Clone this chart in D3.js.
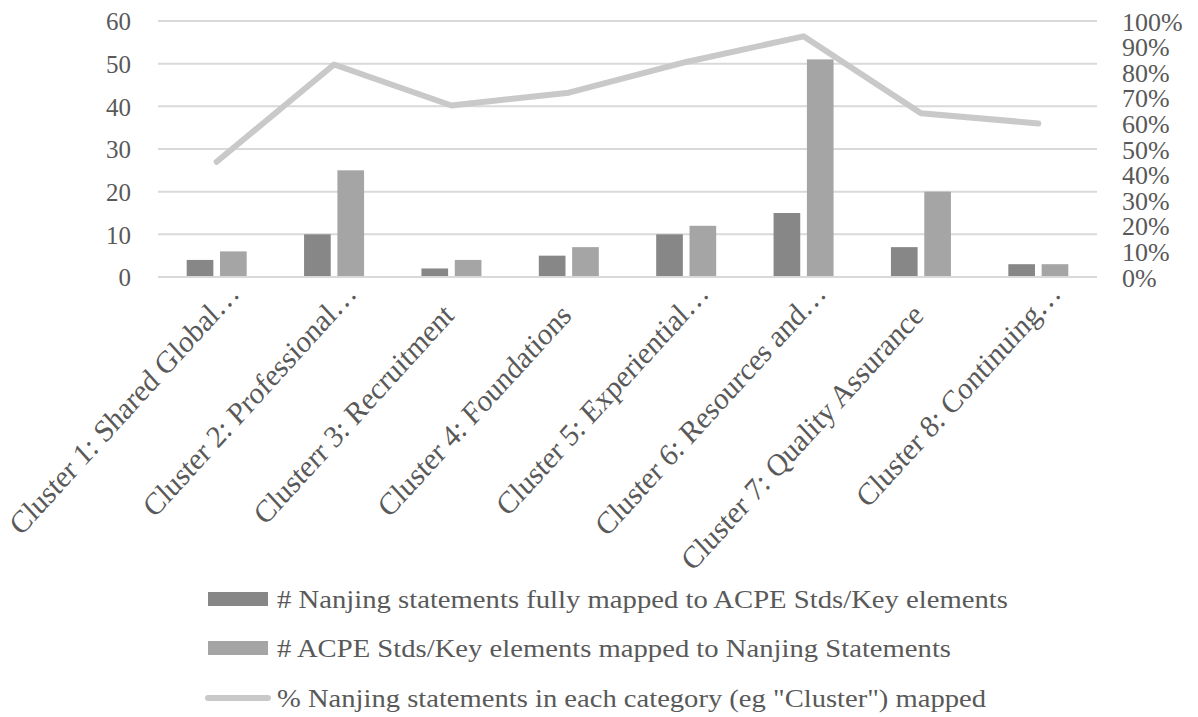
<!DOCTYPE html>
<meta charset="utf-8">
<script src="https://d3js.org/d3.v7.min.js"></script>
<style>
	body{
		margin:0;
		background:#fff;
	}
	text{
		font-family:'Liberation Serif', 'Times New Roman', Times, serif;
		fill:#595959;
	}
</style>
<div id="chart"></div>
<script>
	// chart values
	var categories = ["Cluster 1: Shared Global…","Cluster 2: Professional…","Clusterr 3: Recruitment",
		"Cluster 4: Foundations","Cluster 5: Experiential…","Cluster 6: Resources and…",
		"Cluster 7: Quality Assurance","Cluster 8: Continuing…"]
	var fullyMapped = [4,10,2,5,10,15,7,3]
	var acpeMapped = [6,25,4,7,12,51,20,3]
	var pctMapped = [45,83,67,72,84,94,64,60]
	var leftTicks = [0,10,20,30,40,50,60]
	var rightTicks = [0,10,20,30,40,50,60,70,80,90,100]
	var seriesNames = ["# Nanjing statements fully mapped to ACPE Stds/Key elements",
		"# ACPE Stds/Key elements mapped to Nanjing Statements",
		"% Nanjing statements in each category (eg \"Cluster\") mapped"]

	var w = 1198
	var h = 717
	var serif = "'Liberation Serif', 'Times New Roman', Times, serif"
	var colDark = "#878787"
	var colLight = "#a5a5a5"
	var colLine = "#c9c9c9"

	var svg = d3.select("#chart").append("svg").attr("width",w).attr("height",h)

	var x = d3.scaleBand().domain(categories).range([158,1097]).padding(0)
	var x1 = d3.scaleBand().domain([0,1])
		.range([x.bandwidth()/2-30,x.bandwidth()/2+30]).paddingInner(0.2)
	var y = d3.scaleLinear().domain([0,60]).range([277,21])
	var yPct = d3.scaleLinear().domain([0,100]).range([277,21])

	// gridlines
	svg.append("g")
		.selectAll("line")
		.data(leftTicks)
		.join("line")
		.attr("x1",158).attr("x2",1097)
		.attr("y1",function(d){return y(d)}).attr("y2",function(d){return y(d)})
		.attr("stroke","#d9d9d9").attr("stroke-width",2)

	// left axis
	var leftAxis = svg.append("g").attr("transform","translate(131,0)")
		.call(d3.axisLeft(y).tickValues(leftTicks).tickSize(0).tickPadding(0))
	leftAxis.attr("font-family",serif)
	leftAxis.select(".domain").remove()
	leftAxis.selectAll("text").style("font-size","25px").style("fill","#595959")
		.attr("dy","0.35em")

	// right axis
	var rightAxis = svg.append("g").attr("transform","translate(1122,0)")
		.call(d3.axisRight(yPct).tickValues(rightTicks).tickSize(0).tickPadding(0)
			.tickFormat(function(d){return d+"%"}))
	rightAxis.attr("font-family",serif)
	rightAxis.select(".domain").remove()
	rightAxis.selectAll("text").style("font-size","26px").style("fill","#595959")
		.attr("dy","0.35em")

	// bars
	var groups = svg.append("g")
		.selectAll("g")
		.data(categories)
		.join("g")
		.attr("transform",function(d){return "translate("+x(d)+",0)"})

	groups.append("rect")
		.attr("x",x1(0)).attr("width",x1.bandwidth())
		.attr("y",function(d,i){return y(fullyMapped[i])})
		.attr("height",function(d,i){return y(0)-y(fullyMapped[i])})
		.attr("fill",colDark)
	groups.append("rect")
		.attr("x",x1(1)).attr("width",x1.bandwidth())
		.attr("y",function(d,i){return y(acpeMapped[i])})
		.attr("height",function(d,i){return y(0)-y(acpeMapped[i])})
		.attr("fill",colLight)

	// baseline
	svg.append("line").attr("x1",158).attr("x2",1097).attr("y1",y(0)).attr("y2",y(0))
		.attr("stroke","#d9d9d9").attr("stroke-width",2)

	// percent line
	var line = d3.line()
		.x(function(d,i){return x(categories[i])+x.bandwidth()/2})
		.y(function(d){return yPct(d)})
	svg.append("path").datum(pctMapped)
		.attr("d",line)
		.attr("fill","none")
		.attr("stroke",colLine)
		.attr("stroke-width",6)
		.attr("stroke-linecap","round")
		.attr("stroke-linejoin","round")

	// category labels, rotated (a bit taller than wide, like the source image);
	// the ellipsis hangs past the anchor point
	var labelG = svg.append("g")
		.attr("font-family",serif)
		.selectAll("g")
		.data(categories)
		.join("g")
		.attr("transform",function(d){
			return "translate("+(x(d)+x.bandwidth()/2+4)+",317) scale(1,1.1) rotate(-45)"
		})
	labelG.append("text")
		.attr("text-anchor","end")
		.style("font-size","28.5px")
		.text(function(d){return d.replace("…","")})
	labelG.filter(function(d){return d.indexOf("…")>=0})
		.append("text")
		.attr("text-anchor","start")
		.style("font-size","28.5px")
		.text("…")

	// legend
	var legend = svg.append("g").attr("font-family",serif)
	var rowY = [599,648,698]
	var legendW = [731,674,709]
	seriesNames.forEach(function(name,i){
		var cy = rowY[i]
		if(i<2){
			legend.append("rect").attr("x",208).attr("y",cy-7).attr("width",60).attr("height",14)
				.attr("fill",i==0?colDark:colLight)
		}else{
			legend.append("line").attr("x1",208).attr("x2",268).attr("y1",cy).attr("y2",cy)
				.attr("stroke",colLine).attr("stroke-width",6).attr("stroke-linecap","round")
		}
		legend.append("text")
			.attr("x",277).attr("y",cy).attr("dy","0.35em")
			.attr("textLength",legendW[i]).attr("lengthAdjust","spacingAndGlyphs")
			.style("font-size","25px")
			.text(name)
	})
</script>
